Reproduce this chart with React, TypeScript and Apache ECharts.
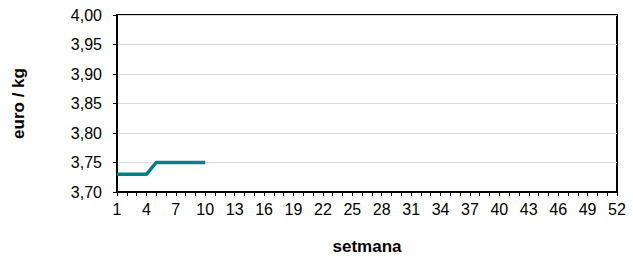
import React, { useEffect, useRef } from "react";
import * as echarts from "echarts";

const weeks: string[] = Array.from({ length: 52 }, (_, i) => String(i + 1));
const prices: (number | null)[] = [3.73, 3.73, 3.73, 3.73, 3.75, 3.75, 3.75, 3.75, 3.75, 3.75];
const yMin = 3.7;
const yMax = 4.0;
const yStep = 0.05;

export default function App() {
  const ref = useRef<HTMLDivElement>(null);
  useEffect(() => {
    if (!ref.current) return;
    const chart = echarts.init(ref.current, null, { renderer: "svg" });
    const font = "Liberation Sans, Arial, sans-serif";
    chart.setOption({
      animation: false,
      backgroundColor: "#fff",
      grid: {
        left: 117,
        right: 16,
        top: 15,
        bottom: 60,
        show: true,
        borderColor: "#000",
        borderWidth: 2,
        backgroundColor: "#fff",
      },
      xAxis: {
        type: "category",
        data: weeks,
        boundaryGap: false,
        name: "setmana",
        nameLocation: "middle",
        nameGap: 46,
        nameTextStyle: { fontFamily: font, fontSize: 17, fontWeight: "bold", color: "#000" },
        axisLine: { lineStyle: { color: "#000", width: 2 } },
        axisTick: { show: true, interval: 0, length: 4, lineStyle: { color: "#000" } },
        axisLabel: { interval: 2, fontFamily: font, fontSize: 16, color: "#000", margin: 9 },
        splitLine: { show: false },
      },
      yAxis: {
        type: "value",
        min: yMin,
        max: yMax,
        interval: yStep,
        name: "euro / kg",
        nameLocation: "middle",
        nameRotate: 90,
        nameGap: 90,
        nameTextStyle: { fontFamily: font, fontSize: 17, fontWeight: "bold", color: "#000" },
        axisLine: { show: true, lineStyle: { color: "#000", width: 2 } },
        axisTick: { show: true, length: 4, lineStyle: { color: "#000" } },
        axisLabel: {
          fontFamily: font,
          fontSize: 16,
          color: "#000",
          margin: 15,
          formatter: (v: number) => v.toFixed(2).replace(".", ","),
        },
        splitLine: { show: true, lineStyle: { color: "#d9d9d9", width: 1 } },
      },
      series: [
        {
          type: "line",
          data: prices,
          showSymbol: false,
          symbol: "none",
          lineStyle: { color: "#008080", width: 3.5 },
        },
      ],
    });
    return () => chart.dispose();
  }, []);
  return (
    <div
      ref={ref}
      style={{ position: "fixed", left: 0, top: 0, width: 633, height: 260 }}
    />
  );
}
